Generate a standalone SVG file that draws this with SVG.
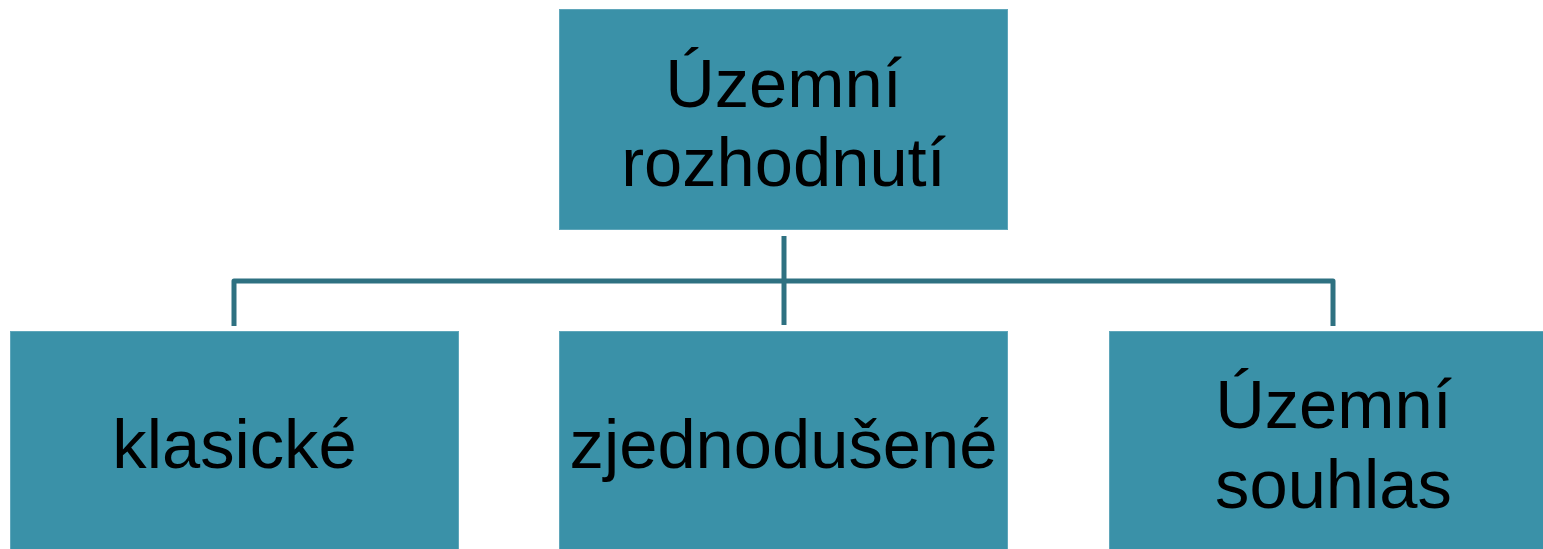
<svg xmlns="http://www.w3.org/2000/svg" width="1543" height="549" viewBox="0 0 1543 549">
  <style>
    .box { fill: #3a91a8; stroke: #5fa6ba; stroke-width: 1; }
    .label { font-family: "Liberation Sans", Arial, sans-serif; font-size: 68.7px; fill: #000; text-anchor: middle; }
    .link { fill: none; stroke: #2e7181; stroke-width: 5; stroke-linejoin: round; }
  </style>
  <rect width="1543" height="549" fill="#fff"/>
  <g id="connectors">
    <path class="link" d="M234 326 V281 H1333 V326"/>
    <path class="link" d="M784 236 V325"/>
  </g>
  <g id="node-root">
    <rect class="box" x="559.5" y="9.5" width="448" height="220"/>
    <text class="label" x="783.5" y="107">Územní</text>
    <text class="label" x="783.5" y="186">rozhodnutí</text>
  </g>
  <g id="node-klasicke">
    <rect class="box" x="10.5" y="331.5" width="448" height="230"/>
    <text class="label" x="234.5" y="468">klasické</text>
  </g>
  <g id="node-zjednodusene">
    <rect class="box" x="559.5" y="331.5" width="448" height="230"/>
    <text class="label" x="783.5" y="468">zjednodušené</text>
  </g>
  <g id="node-souhlas">
    <rect class="box" x="1109.5" y="331.5" width="448" height="230"/>
    <text class="label" x="1333.5" y="428">Územní</text>
    <text class="label" x="1333.5" y="508">souhlas</text>
  </g>
</svg>
